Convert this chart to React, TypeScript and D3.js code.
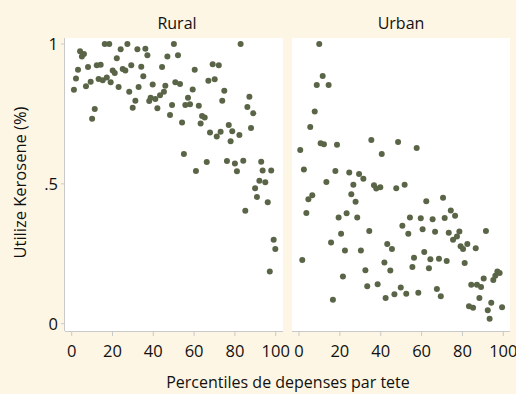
import React from "react";
import * as d3 from "d3";

const ruralX = [1.1,2.1,3.1,4.1,5.0,6.0,7.0,8.0,9.3,10.0,11.3,12.3,13.2,14.2,15.2,16.2,17.2,18.4,19.1,20.1,21.1,22.1,23.0,24.0,25.0,26.3,27.3,28.2,29.2,29.9,31.2,32.2,32.8,34.1,35.1,36.1,37.1,38.0,38.7,39.7,41.0,42.0,43.3,44.3,45.2,45.9,46.9,48.2,49.2,50.1,50.8,52.1,53.1,54.1,55.0,55.7,57.0,58.0,59.3,60.3,60.9,62.3,63.2,63.9,65.2,66.2,67.0,67.8,69.1,70.1,71.1,72.1,73.0,73.8,74.8,76.1,77.0,77.9,78.7,80.0,81.0,82.2,82.8,84.1,86.1,87.1,87.9,89.0,92.0,92.9,93.6,97.8,94.9,89.9,90.8,85.1,96.1,99.0,99.8,97.1];
const ruralY = [0.836,0.877,0.908,0.974,0.955,0.964,0.849,0.918,0.865,0.733,0.768,0.924,0.875,0.926,0.870,1.0,0.880,1.0,0.863,0.905,0.896,0.949,0.846,0.981,0.911,0.905,1.0,0.829,0.924,0.772,0.797,0.981,0.846,0.919,0.885,0.983,0.960,0.796,0.808,0.855,0.803,0.770,0.817,0.918,0.829,0.851,0.955,0.746,0.782,1.0,0.863,0.960,0.857,0.719,0.607,0.782,0.808,0.785,0.837,0.908,0.546,0.779,0.716,0.743,0.737,0.578,0.869,0.684,0.928,0.874,0.669,0.924,0.686,0.797,0.833,0.582,0.710,0.652,0.688,0.573,0.545,0.675,1.0,0.583,0.775,0.811,0.700,0.752,0.511,0.579,0.548,0.548,0.506,0.484,0.453,0.404,0.434,0.300,0.267,0.187];

const urbanX = [9.9,11.6,8.7,14.5,7.7,5.5,10.6,12.2,0.6,18.6,35.4,48.5,40.5,57.6,2.4,17.8,24.6,29.4,31.5,13.4,26.6,36.7,37.8,39.8,47.6,51.7,25.6,27.7,6.5,4.6,3.6,19.4,23.3,28.5,20.6,15.7,34.4,22.5,30.3,1.6,43.2,45.5,41.8,32.5,44.7,21.5,33.4,38.5,16.6,42.4,46.7,49.8,52.5,58.4,50.6,53.5,54.3,59.6,62.3,60.5,65.4,66.6,70.5,71.3,74.3,76.4,73.3,75.4,77.3,78.5,79.1,80.3,82.4,86.5,91.5,56.3,55.5,61.3,64.3,63.6,68.5,72.3,81.1,67.5,69.4,84.3,87.1,89.1,90.4,88.3,83.2,85.2,94.1,92.4,93.3,99.4,95.1,96.1,97.1,98.2];
const urbanY = [1.0,0.886,0.853,0.853,0.759,0.703,0.645,0.642,0.621,0.640,0.657,0.650,0.607,0.628,0.551,0.546,0.541,0.535,0.518,0.507,0.497,0.495,0.483,0.488,0.484,0.497,0.463,0.436,0.459,0.445,0.396,0.380,0.395,0.380,0.322,0.290,0.331,0.262,0.262,0.228,0.285,0.267,0.219,0.191,0.190,0.169,0.134,0.141,0.086,0.092,0.105,0.129,0.107,0.111,0.350,0.322,0.380,0.377,0.438,0.338,0.373,0.329,0.450,0.378,0.405,0.386,0.325,0.300,0.312,0.330,0.277,0.267,0.285,0.270,0.331,0.236,0.203,0.256,0.230,0.198,0.232,0.224,0.217,0.124,0.098,0.139,0.139,0.131,0.162,0.092,0.062,0.057,0.075,0.048,0.018,0.059,0.156,0.171,0.187,0.181];

const xTicks = [0, 20, 40, 60, 80, 100];
const yTicks = [0, 0.5, 1];
const yTickLabels = ["0", ".5", "1"];
const panelTitles = ["Rural", "Urban"];

const BG = "#fef6e4";
const PT = "#5a6548";
const AX = "#c9c9c9";
const FONT = "'Open Sans', Lato, sans-serif";

export default function App() {
  const W = 516, H = 394;
  const y = d3.scaleLinear().domain([0, 1]).range([323.7, 44]);
  const panels = [
    { title: panelTitles[0], cx: 177, left: 65, right: 283, x: d3.scaleLinear().domain([0, 100]).range([71.7, 275.7]), xs: ruralX, ys: ruralY, yAxis: true },
    { title: panelTitles[1], cx: 401, left: 292, right: 510, x: d3.scaleLinear().domain([0, 100]).range([299, 503.3]), xs: urbanX, ys: urbanY, yAxis: false },
  ];
  const top = 38, bottom = 331;
  return (
    <svg width={W} height={H} style={{ position: "absolute", left: 0, top: 0, display: "block" }} fontFamily={FONT}>
      <rect x={0} y={0} width={W} height={H} fill={BG} />
      <text x={215} y={-3} fontSize={15} fill="#f39a3c" fontFamily="DejaVu Sans">(</text>
      <text x={294} y={-3} fontSize={15} fill="#f39a3c" fontFamily="DejaVu Sans">)</text>
      {panels.map((p, i) => (
        <g key={i}>
          <rect x={p.left} y={top} width={p.right - p.left} height={bottom - top} fill="#fff" />
          <text x={p.cx} y={29} textAnchor="middle" fontSize={16} fill="#111">{p.title}</text>
          <line x1={p.left} x2={p.right} y1={bottom + 0.5} y2={bottom + 0.5} stroke={AX} />
          {xTicks.map((t) => (
            <g key={t}>
              <line x1={p.x(t)} x2={p.x(t)} y1={bottom} y2={bottom + 5} stroke={AX} />
              <text x={p.x(t)} y={357} textAnchor="middle" fontSize={16.5} fill="#111">{t}</text>
            </g>
          ))}
          {p.yAxis && (
            <g>
              <line x1={p.left - 0.5} x2={p.left - 0.5} y1={top} y2={bottom} stroke={AX} />
              {yTicks.map((t, j) => (
                <g key={t}>
                  <line x1={p.left - 4} x2={p.left} y1={y(t)} y2={y(t)} stroke={AX} />
                  <text x={p.left - 7} y={y(t) + 6} textAnchor="end" fontSize={16.5} fill="#111">{yTickLabels[j]}</text>
                </g>
              ))}
            </g>
          )}
          {p.xs.map((v, k) => (
            <circle key={k} cx={p.x(v)} cy={y(p.ys[k])} r={3} fill={PT} />
          ))}
        </g>
      ))}
      <text x={288} y={388} textAnchor="middle" fontSize={16} fill="#111">Percentiles de depenses par tete</text>
      <text transform="translate(26,182.5) rotate(-90)" textAnchor="middle" fontSize={16.5} fill="#111">Utilize Kerosene (%)</text>
    </svg>
  );
}
